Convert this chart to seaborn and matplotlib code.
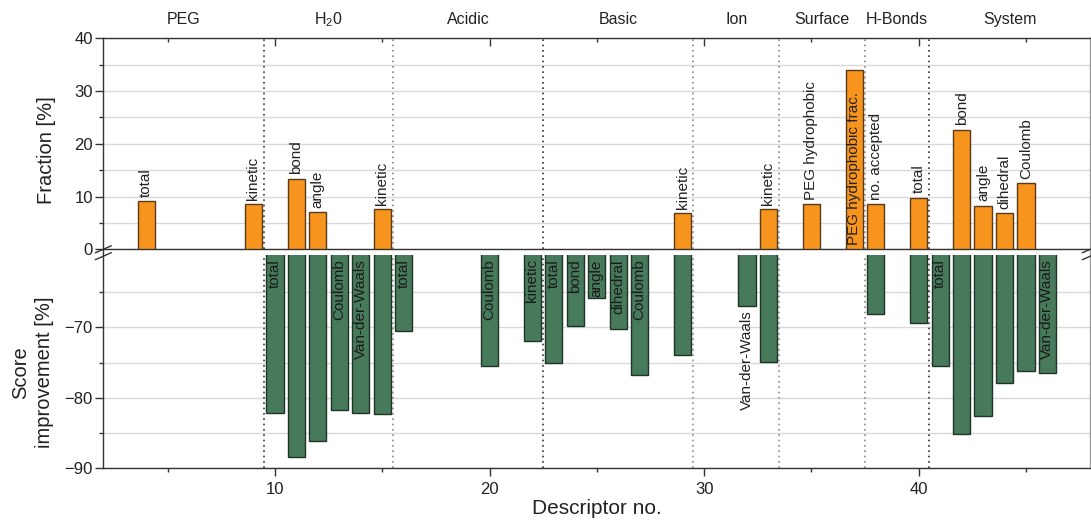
import matplotlib
matplotlib.use("Agg")
import matplotlib.pyplot as plt
from matplotlib.lines import Line2D
from matplotlib.ticker import MultipleLocator, FixedLocator
import seaborn as sns

# Fraction of descriptors (upper panel)
frac_desc = [4, 9, 11, 12, 15, 29, 33, 35, 37, 38, 40, 42, 43, 44, 45]
frac_vals = [9.2, 8.6, 13.4, 7.1, 7.6, 6.8, 7.6, 8.6, 33.9, 8.6, 9.8, 22.7, 8.3, 6.9, 12.5]
frac_labels = ["total", "kinetic", "bond", "angle", "kinetic", "kinetic", "kinetic",
               "PEG hydrophobic", "PEG hydrophobic frac.", "no. accepted", "total",
               "bond", "angle", "dihedral", "Coulomb"]

# Score improvement (lower panel)
score_desc = [10, 11, 12, 13, 14, 15, 16, 20, 22, 23, 24, 25, 26, 27, 29, 32, 33,
              38, 40, 41, 42, 43, 44, 45, 46]
score_vals = [-82.1, -88.4, -86.1, -81.7, -82.2, -82.3, -70.5, -75.5, -72.0, -75.1,
              -69.8, -65.9, -70.3, -76.8, -73.9, -67.0, -74.9, -68.1, -69.4, -75.5,
              -85.2, -82.6, -77.9, -76.2, -76.5]
score_labels = ["total", "", "", "Coulomb", "Van-der-Waals", "", "total", "Coulomb",
                "kinetic", "total", "bond", "angle", "dihedral", "Coulomb", "",
                "Van-der-Waals", "", "", "", "total", "", "", "", "", "Van-der-Waals"]

# Axis ticks
frac_ticks = [0, 10, 20, 30, 40]
frac_minor = [5, 15, 25, 35]
score_ticks = [-90, -80, -70]
score_minor = [-85, -75, -65]

# Descriptor groups
group_names = ["PEG", "H$_2$0", "Acidic", "Basic", "Ion", "Surface", "H-Bonds", "System"]
group_edges = [9.5, 15.5, 22.5, 29.5, 33.5, 37.5, 40.5]

ORANGE, ORANGE_EDGE = "#F7941D", "#5A3A1C"
GREEN, GREEN_EDGE = "#477A5A", "#1F3327"
GRID = "#D9D9D9"
DARK = "#222222"

sns.set_style("white")
plt.rcParams["font.family"] = ["Liberation Sans", "DejaVu Sans"]
plt.rcParams["mathtext.fontset"] = "custom"
plt.rcParams["mathtext.rm"] = "Liberation Sans"
plt.rcParams["mathtext.default"] = "regular"

fig = plt.figure(figsize=(10.91, 5.22), dpi=100)
W, H = 1091, 522
left, right = 103.3 / W, 1090.3 / W
ax_top = fig.add_axes([left, 1 - 249.3 / H, right - left, 211.0 / H])
ax_bot = fig.add_axes([left, 1 - 468.3 / H, right - left, 213.3 / H])

XLIM = (2, 48)

sns.barplot(x=frac_desc, y=frac_vals, native_scale=True, width=0.8, color=ORANGE,
            saturation=1, edgecolor=ORANGE_EDGE, linewidth=1.0, errorbar=None,
            ax=ax_top, zorder=3)
sns.barplot(x=score_desc, y=score_vals, native_scale=True, width=0.8, color=GREEN,
            saturation=1, edgecolor=GREEN_EDGE, linewidth=1.0, errorbar=None,
            ax=ax_bot, zorder=3)

ax_top.set_ylim(0, 40)
ax_bot.set_ylim(-90, -59.75)
ax_top.yaxis.set_major_locator(FixedLocator(frac_ticks))
ax_top.yaxis.set_minor_locator(FixedLocator(frac_minor))
ax_bot.yaxis.set_major_locator(FixedLocator(score_ticks))
ax_bot.yaxis.set_minor_locator(FixedLocator(score_minor))

for ax in (ax_top, ax_bot):
    ax.set_xlim(*XLIM)
    ax.set_xlabel("")
    ax.set_ylabel("")
    ax.xaxis.set_major_locator(MultipleLocator(10))
    ax.xaxis.set_minor_locator(MultipleLocator(5))
    ax.grid(False)
    ax.yaxis.grid(True, which="both", color=GRID, lw=1.0, zorder=0)
    ax.set_axisbelow(True)
    for s in ("left", "bottom", "top"):
        ax.spines[s].set_color("#333333")
        ax.spines[s].set_linewidth(1.0)
    ax.spines["right"].set_color("#9A9A9A")
    ax.spines["right"].set_linewidth(1.0)
    ax.tick_params(axis="y", which="major", direction="out", length=6, width=1,
                   color="#333333", labelsize=12, labelcolor=DARK, pad=1.5, left=True)
    ax.tick_params(axis="y", which="minor", direction="out", length=3, width=1,
                   color="#333333", left=True)
    # group separators
    for e in group_edges:
        col = "#333333" if e in (9.5, 22.5, 40.5) else "#8A8A8A"
        ax.axvline(e, color=col, lw=1.2, ls=(0, (1, 2.2)), zorder=2)

# upper panel: ticks on the top spine only
ax_top.tick_params(axis="x", which="both", direction="in", top=True, bottom=False,
                   labelbottom=False, color="#333333", width=1)
ax_top.tick_params(axis="x", which="major", length=6)
ax_top.tick_params(axis="x", which="minor", length=3)

# lower panel: outward ticks on the bottom spine
ax_bot.spines["top"].set_visible(False)
ax_bot.tick_params(axis="x", which="both", direction="out", bottom=True, top=False,
                   color="#333333", width=1)
ax_bot.tick_params(axis="x", which="major", length=6, labelsize=12, labelcolor=DARK, pad=4)
ax_bot.tick_params(axis="x", which="minor", length=3)
ax_bot.set_xlabel("Descriptor no.", fontsize=15, color=DARK, labelpad=1)

ax_top.set_ylabel("Fraction [%]", fontsize=14.5, color=DARK)
ax_top.yaxis.set_label_coords(-0.048, 0.47)
ax_bot.set_ylabel("Score\nimprovement [%]", fontsize=14.5, color=DARK, linespacing=1.3)
ax_bot.yaxis.set_label_coords(-0.050, 0.45)

# group names above the upper panel
bounds = [XLIM[0]] + group_edges + [XLIM[1]]
for name, a, b in zip(group_names, bounds[:-1], bounds[1:]):
    ax_top.text((a + b) / 2, 1.087, name, transform=ax_top.get_xaxis_transform(),
                ha="center", va="center", fontsize=11.5, color=DARK)

# bar labels, upper panel
inside_top = {37}
for d, v, t in zip(frac_desc, frac_vals, frac_labels):
    y = 0 if d in inside_top else v
    ax_top.annotate(t, (d, y), xytext=(0, 3), textcoords="offset points",
                    rotation=90, ha="center", va="bottom", fontsize=11,
                    color=DARK, zorder=5)

# bar labels, lower panel
below_bot = {32}
for d, v, t in zip(score_desc, score_vals, score_labels):
    if not t:
        continue
    if d in below_bot:
        ax_bot.annotate(t, (d, v), xytext=(0, -3), textcoords="offset points",
                        rotation=90, ha="center", va="top", fontsize=11,
                        color=DARK, zorder=5)
    else:
        ax_bot.annotate(t, (d, 1.0), xycoords=("data", "axes fraction"),
                        xytext=(0, -3), textcoords="offset points",
                        rotation=90, ha="center", va="top", fontsize=11,
                        color="#1A1A1A", zorder=5)

# spine continuation across the gap and break marks
pt, pb = ax_top.get_position(), ax_bot.get_position()
for xe, col in ((pt.x0, "#333333"), (pt.x1, "#9A9A9A")):
    fig.add_artist(Line2D([xe, xe], [pb.y1, pt.y0], color=col, lw=1.0))
dx, dy = 8 / W, 3.5 / H
for xe in (pt.x0, pt.x1):
    for yc in (pt.y0, pb.y1 - 1.2 / H):
        fig.add_artist(Line2D([xe - dx, xe + dx], [yc - dy, yc + dy],
                              color="#333333", lw=1.0, clip_on=False))

fig.savefig("out.png", dpi=100)
